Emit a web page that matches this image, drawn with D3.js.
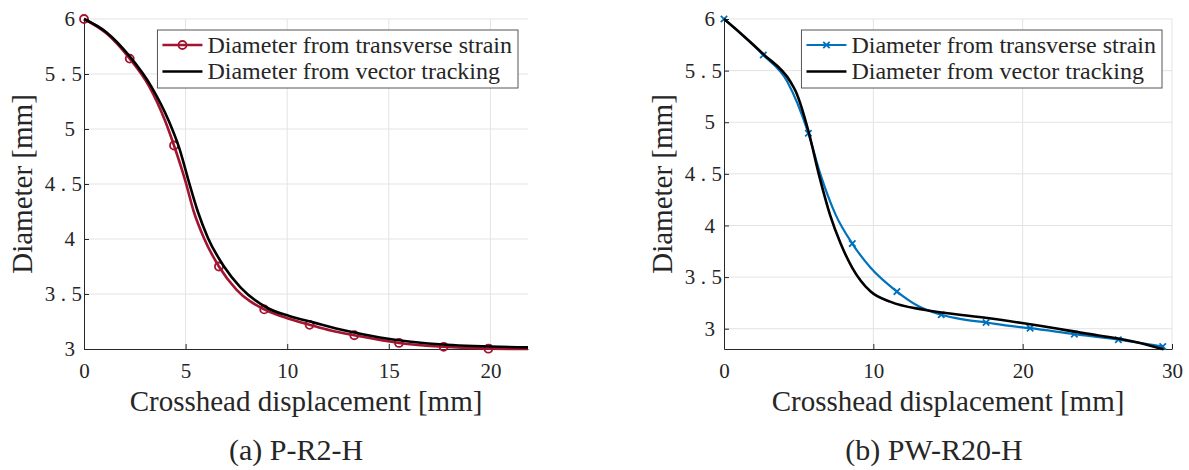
<!DOCTYPE html>
<html>
<head>
<meta charset="utf-8">
<script src="https://cdn.jsdelivr.net/npm/d3@7"></script>
<style>
  body { margin: 0; background: #fff; }
  svg text { font-family: "Liberation Serif", "Times New Roman", serif; fill: #262626; }
</style>
</head>
<body>
<svg id="chart" width="1189" height="470" font-family="Liberation Serif"></svg>
<script>
// ---- panel (a) P-R2-H ----
var aStrainX = [0, 1.1, 2.25, 3.2, 4.0, 4.43, 5.0, 5.4, 5.9, 6.64, 7.5, 8.87, 10, 11.1, 12.2, 13.3, 15.5, 17.7, 19.9, 21.85];
var aStrainY = [6.0, 5.87, 5.64, 5.39, 5.07, 4.85, 4.52, 4.25, 4.01, 3.75, 3.54, 3.36, 3.28, 3.22, 3.165, 3.125, 3.055, 3.02, 3.003, 3.0];
var aStrainMarks = [0, 2, 5, 9, 11, 13, 15, 16, 17, 18];
var aTrackX = [0, 1.1, 2.25, 3.3, 4.18, 4.7, 5.16, 5.6, 6.1, 6.89, 7.7, 9.0, 10.1, 11.28, 12.9, 14.56, 17.84, 21.85];
var aTrackY = [6.0, 5.88, 5.66, 5.39, 5.07, 4.82, 4.52, 4.25, 4.01, 3.75, 3.56, 3.375, 3.30, 3.242, 3.165, 3.105, 3.039, 3.015];
var aXTicks = [0, 5, 10, 15, 20];
var aYTicks = [3, 3.5, 4, 4.5, 5, 5.5, 6];

// ---- panel (b) PW-R20-H ----
var bStrainX = [0, 1.23, 2.63, 4.24, 5.65, 6.47, 7.48, 8.59, 9.82, 11.58, 13.0, 14.55, 16.0, 17.55, 19.0, 20.5, 23.46, 26.41, 29.38];
var bStrainY = [6.0, 5.845, 5.651, 5.393, 4.893, 4.49, 4.103, 3.825, 3.59, 3.36, 3.22, 3.135, 3.09, 3.06, 3.03, 3.005, 2.947, 2.893, 2.828];
var bStrainMarks = [0, 2, 4, 7, 9, 11, 13, 15, 16, 17, 18];
var bTrackX = [0, 1.2, 2.63, 4.46, 4.8, 5.69, 6.36, 7.1, 7.81, 8.59, 9.82, 11.16, 13.39, 17.37, 20.72, 24.07, 27.41, 29.43];
var bTrackY = [6.0, 5.85, 5.66, 5.39, 5.30, 4.893, 4.49, 4.103, 3.825, 3.59, 3.36, 3.26, 3.183, 3.108, 3.038, 2.957, 2.876, 2.80];
var bXTicks = [0, 10, 20, 30];
var bYTicks = [3, 3.5, 4, 4.5, 5, 5.5, 6];

var legendLabels = ["Diameter from transverse strain", "Diameter from vector tracking"];
var xLabel = "Crosshead displacement [mm]";
var yLabel = "Diameter [mm]";

var FONT = '"Liberation Serif", "Times New Roman", serif';
var svg = d3.select('#chart');

function drawPanel(p) {
  var x = d3.scaleLinear().domain(p.xDomain).range([p.left, p.right]);
  var y = d3.scaleLinear().domain(p.yDomain).range([p.bottom, p.top]);
  var g = svg.append('g');

  // grid
  g.append('g').selectAll('line').data(p.xTicks.filter(function(d) { return d > p.xDomain[0]; }))
    .enter().append('line')
    .attr('x1', function(d) { return x(d); }).attr('x2', function(d) { return x(d); })
    .attr('y1', p.top).attr('y2', p.bottom)
    .attr('stroke', '#e3e3e3').attr('stroke-width', 1);
  g.append('g').selectAll('line').data(p.yTicks.filter(function(d) { return d > p.yDomain[0]; }))
    .enter().append('line')
    .attr('x1', p.left).attr('x2', p.right)
    .attr('y1', function(d) { return y(d); }).attr('y2', function(d) { return y(d); })
    .attr('stroke', '#e3e3e3').attr('stroke-width', 1);

  // axes
  var xAxis = g.append('g').attr('transform', 'translate(0,' + p.bottom + ')')
    .call(d3.axisBottom(x).tickValues(p.xTicks).tickSize(-5).tickSizeOuter(0).tickPadding(14).tickFormat(d3.format('d')));
  var yAxis = g.append('g').attr('transform', 'translate(' + p.left + ',0)')
    .call(d3.axisLeft(y).tickValues(p.yTicks).tickSize(-5).tickSizeOuter(0).tickFormat(function(d) { return String(d); }));
  [xAxis, yAxis].forEach(function(a) {
    a.attr('font-family', FONT);
    a.select('.domain').attr('stroke', '#262626').attr('stroke-width', 1);
    a.selectAll('.tick line').attr('stroke', '#262626');
    a.selectAll('.tick text').attr('font-size', 21).attr('fill', '#262626');
  });
  // decimal labels are spaced wider, as in the original figure
  yAxis.selectAll('.tick text')
    .attr('x', function(d) { return Number.isInteger(d) ? -9 : 3.5; })
    .style('letter-spacing', function(d) { return Number.isInteger(d) ? null : '5.5px'; });

  // series
  var line = d3.line().x(function(d) { return x(d[0]); }).y(function(d) { return y(d[1]); }).curve(d3.curveMonotoneX);
  var strain = d3.zip(p.strainX, p.strainY);
  var track = d3.zip(p.trackX, p.trackY);

  g.append('path').datum(strain).attr('d', line)
    .attr('fill', 'none').attr('stroke', p.color).attr('stroke-width', p.marker === 'o' ? 2.6 : 2.2)
    .attr('stroke-linejoin', 'round');
  drawMarkers(g, p.strainMarks.map(function(i) { return strain[i]; }), x, y, p);

  g.append('path').datum(track).attr('d', line)
    .attr('fill', 'none').attr('stroke', '#000').attr('stroke-width', 2.6)
    .attr('stroke-linejoin', 'round');

  // legend
  var lg = g.append('g');
  var box = lg.append('rect').attr('fill', '#fff').attr('stroke', '#555').attr('stroke-width', 1);
  var texts = lg.selectAll('text').data(legendLabels).enter().append('text')
    .attr('font-family', FONT)
    .attr('font-size', 24)
    .attr('fill', '#000')
    .attr('dy', '0.33em')
    .text(function(d) { return d; });
  var tw = d3.max(texts.nodes(), function(n) { return n.getComputedTextLength(); });
  var bw = 50 + tw + 6, bh = 58;
  var bx = p.right - 10 - bw, by = p.top + 11;
  box.attr('x', bx).attr('y', by).attr('width', bw).attr('height', bh);
  texts.attr('x', bx + 50).attr('y', function(d, i) { return by + 15 + i * 26.5; });
  lg.append('line').attr('x1', bx + 5).attr('x2', bx + 45).attr('y1', by + 15).attr('y2', by + 15)
    .attr('stroke', p.color).attr('stroke-width', p.marker === 'o' ? 2.6 : 2.2);
  drawMarkers(lg, [[bx + 25, by + 15]], function(v) { return v; }, function(v) { return v; }, p);
  lg.append('line').attr('x1', bx + 5).attr('x2', bx + 45).attr('y1', by + 41.5).attr('y2', by + 41.5)
    .attr('stroke', '#000').attr('stroke-width', 2.6);

  // labels
  g.append('text').attr('x', (p.left + p.right) / 2).attr('y', p.bottom + 62)
    .attr('font-family', FONT)
    .attr('text-anchor', 'middle').attr('font-size', 29).text(xLabel);
  g.append('text').attr('transform', 'translate(' + p.yLabelX + ',' + (p.top + p.bottom) / 2 + ') rotate(-90)')
    .attr('font-family', FONT)
    .attr('text-anchor', 'middle').attr('font-size', 29).text(yLabel);
  g.append('text').attr('x', p.captionX).attr('y', 460)
    .attr('font-family', FONT)
    .attr('text-anchor', 'middle').attr('font-size', 30).text(p.caption);
}

function drawMarkers(g, pts, x, y, p) {
  if (p.marker === 'o') {
    g.append('g').selectAll('circle').data(pts).enter().append('circle')
      .attr('cx', function(d) { return x(d[0]); }).attr('cy', function(d) { return y(d[1]); })
      .attr('r', 4).attr('fill', 'none').attr('stroke', p.color).attr('stroke-width', 1.8);
  } else {
    var s = 3.2;
    g.append('g').selectAll('path').data(pts).enter().append('path')
      .attr('d', function(d) {
        var cx = x(d[0]), cy = y(d[1]);
        return 'M' + (cx - s) + ',' + (cy - s) + 'L' + (cx + s) + ',' + (cy + s) +
               'M' + (cx - s) + ',' + (cy + s) + 'L' + (cx + s) + ',' + (cy - s);
      })
      .attr('stroke', p.color).attr('stroke-width', 1.8).attr('fill', 'none');
  }
}

drawPanel({
  left: 84, right: 528, top: 19, bottom: 349,
  xDomain: [0, 21.85], yDomain: [3, 6],
  xTicks: aXTicks, yTicks: aYTicks,
  strainX: aStrainX, strainY: aStrainY, strainMarks: aStrainMarks,
  trackX: aTrackX, trackY: aTrackY,
  color: '#A2142F', marker: 'o',
  yLabelX: 32, captionX: 296, caption: '(a) P-R2-H'
});

drawPanel({
  left: 724, right: 1172, top: 19, bottom: 349,
  xDomain: [0, 30], yDomain: [2.8035, 6],
  xTicks: bXTicks, yTicks: bYTicks,
  strainX: bStrainX, strainY: bStrainY, strainMarks: bStrainMarks,
  trackX: bTrackX, trackY: bTrackY,
  color: '#0072BD', marker: 'x',
  yLabelX: 672, captionX: 934, caption: '(b) PW-R20-H'
});
</script>
</body>
</html>
